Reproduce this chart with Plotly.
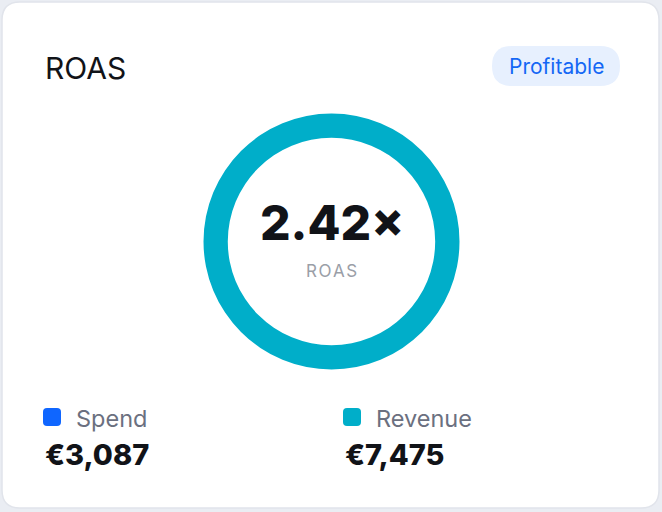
import plotly.graph_objects as go

# ---- data ----
title_text = "ROAS"
badge_text = "Profitable"
series_names = ["Spend", "Revenue"]
series_values = [3087, 7475]
series_colors = ["#0f66ff", "#00aec9"]
roas_value = 2.42

W, H = 662, 512


def rounded_rect(x0, y0, x1, y1, r):
    return (f"M {x0+r},{y0} L {x1-r},{y0} Q {x1},{y0} {x1},{y0+r} "
            f"L {x1},{y1-r} Q {x1},{y1} {x1-r},{y1} L {x0+r},{y1} "
            f"Q {x0},{y1} {x0},{y1-r} L {x0},{y0+r} Q {x0},{y0} {x0+r},{y0} Z")


fig = go.Figure()

# ring: filled fraction = ROAS capped at 1
fill = min(roas_value, 1.0)
cx, cy, R = 331.5, 241.5, 128
fig.add_trace(go.Pie(
    values=[fill, 1 - fill],
    marker=dict(colors=[series_colors[1], "#e8edf3"], line=dict(width=0)),
    hole=0.81,
    sort=False,
    direction="clockwise",
    textinfo="none",
    hoverinfo="skip",
    showlegend=False,
    domain=dict(x=[(cx - R) / W, (cx + R) / W], y=[1 - (cy + R) / H, 1 - (cy - R) / H]),
))

shapes = []
# card
shapes.append(dict(type="path", path=rounded_rect(2, 2, 659, 508, 18),
                   xref="x", yref="y", fillcolor="#ffffff",
                   line=dict(color="#e1e4eb", width=1.5), layer="below"))
# badge
shapes.append(dict(type="path", path=rounded_rect(492, 46, 620, 86, 20),
                   xref="x", yref="y", fillcolor="#e7f0fe", line=dict(width=0), layer="below"))

annotations = [
    dict(x=43, y=68, text=title_text, showarrow=False, xanchor="left", yanchor="middle",
         font=dict(family="Inter", size=30, color="#111318")),
    dict(x=556, y=66, text=badge_text, showarrow=False, xanchor="center", yanchor="middle",
         font=dict(family="Inter", size=21, color="#1467f5")),
    dict(x=cx, y=222, text=f"{roas_value:.2f}×", showarrow=False, xanchor="center", yanchor="middle",
         font=dict(family="Inter", size=48, color="#111318", weight=800)),
    dict(x=cx, y=271, text="\u200a".join("ROAS"), showarrow=False, xanchor="center", yanchor="middle",
         font=dict(family="Inter", size=17, color="#9a9ea7")),
]

legend_x = [43, 343]
for name, val, col, lx in zip(series_names, series_values, series_colors, legend_x):
    shapes.append(dict(type="path", path=rounded_rect(lx, 408, lx + 18, 426, 4),
                       xref="x", yref="y", fillcolor=col, line=dict(width=0)))
    annotations.append(dict(x=lx + 31, y=418, text=name, showarrow=False, xanchor="left",
                            yanchor="middle", font=dict(family="Inter", size=23.5, color="#6b7080")))
    annotations.append(dict(x=lx, y=454, text=f"€{val:,}", showarrow=False, xanchor="left",
                            yanchor="middle", font=dict(family="Inter", size=29, color="#111318", weight=800)))

fig.update_layout(
    width=W, height=H,
    margin=dict(l=0, r=0, t=0, b=0),
    paper_bgcolor="#eaedf3",
    plot_bgcolor="rgba(0,0,0,0)",
    xaxis=dict(range=[0, W], visible=False, fixedrange=True),
    yaxis=dict(range=[H, 0], visible=False, fixedrange=True),
    shapes=shapes,
    annotations=annotations,
    showlegend=False,
)

fig.write_html("out.html", config={"displayModeBar": False},
               post_script="document.body.style.margin='0';document.body.style.overflow='hidden';")
